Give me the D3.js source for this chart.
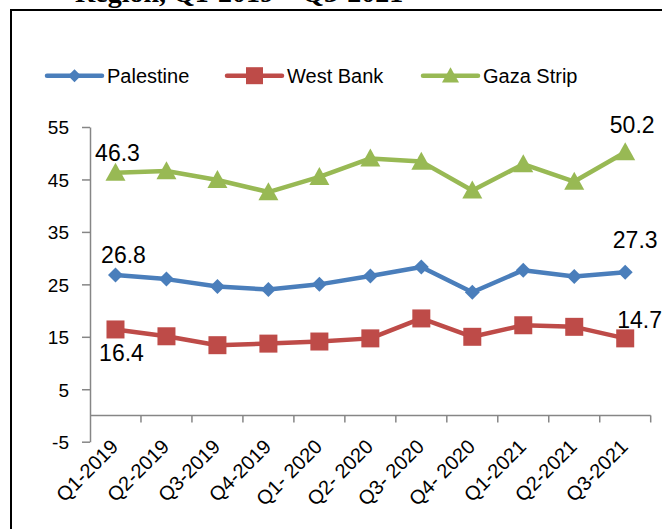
<!DOCTYPE html>
<html>
<head>
<meta charset="utf-8">
<script src="https://cdn.jsdelivr.net/npm/d3@7"></script>
<style>
  html, body { margin: 0; padding: 0; background: #fff; }
  svg { display: block; }
</style>
</head>
<body>
<svg id="chart" width="662" height="529"></svg>
<script>
const categories = ["Q1-2019","Q2-2019","Q3-2019","Q4-2019","Q1- 2020","Q2- 2020","Q3- 2020","Q4- 2020","Q1-2021","Q2-2021","Q3-2021"];
const seriesNames = ["Palestine","West Bank","Gaza Strip"];
const palestine = [26.8, 26.0, 24.6, 24.0, 25.0, 26.6, 28.3, 23.5, 27.7, 26.5, 27.3];
const westBank  = [16.4, 15.1, 13.4, 13.7, 14.1, 14.7, 18.5, 15.0, 17.2, 16.9, 14.7];
const gazaStrip = [46.3, 46.6, 44.9, 42.6, 45.5, 49.0, 48.4, 42.9, 47.9, 44.6, 50.2];
const yTicks = [-5, 5, 15, 25, 35, 45, 55];
const titleText = "Region, Q1-2019 – Q3-2021";

const colors = ["#4a7ebb", "#be4b48", "#98b954"];
const shapes = ["diamond", "square", "triangle"];
const values = [palestine, westBank, gazaStrip];

const svg = d3.select("#chart");
const font = "'Liberation Sans', Arial, sans-serif";

// frame
svg.append("rect").attr("x", 11).attr("y", 10).attr("width", 720).attr("height", 600)
  .attr("fill", "none").attr("stroke", "#000").attr("stroke-width", 2);

// title (cut off at top, as in the source)
svg.append("text").attr("x", 75).attr("y", 1.5)
  .attr("font-family", "'Liberation Serif', 'Times New Roman', serif")
  .attr("font-weight", "bold").attr("font-size", 28)
  .attr("fill", "#000").text(titleText);

const x = d3.scaleBand().domain(categories).range([90, 650.7]);
const y = d3.scaleLinear().domain([-5, 55]).range([441.7, 127]);
const axisColor = "#868686";

// y axis
const yAxis = svg.append("g").attr("transform", "translate(90,0)")
  .call(d3.axisLeft(y).tickValues(yTicks).tickFormat(d => String(d))
    .tickSize(8).tickSizeOuter(0).tickPadding(13));
yAxis.select(".domain").attr("stroke", axisColor).attr("stroke-width", 1.5);
yAxis.selectAll(".tick line").attr("stroke", axisColor).attr("stroke-width", 1.5);
yAxis.selectAll(".tick text").attr("font-family", font).attr("font-size", 19).attr("fill", "#000")
  .attr("dy", "0.36em");

// x axis at zero
const xg = svg.append("g");
xg.append("line").attr("x1", x.range()[0]).attr("x2", x.range()[1])
  .attr("y1", y(0)).attr("y2", y(0)).attr("stroke", axisColor).attr("stroke-width", 1.5);
const boundaries = categories.map(c => x(c)).concat([x.range()[1]]);
xg.selectAll("line.tk").data(boundaries.slice(1)).join("line").attr("class", "tk")
  .attr("x1", d => d).attr("x2", d => d).attr("y1", y(0)).attr("y2", y(0) + 7)
  .attr("stroke", axisColor).attr("stroke-width", 1.5);
xg.selectAll("text").data(categories).join("text")
  .attr("transform", d => `translate(${x(d) + x.bandwidth() / 2 + 4},${448}) rotate(-45)`)
  .attr("text-anchor", "end")
  .attr("font-family", font).attr("font-size", 20).attr("fill", "#000")
  .text(d => d);

function markerPath(shape, size) {
  const s = size / 2;
  if (shape === "diamond") return `M0,${-s}L${s},0L0,${s}L${-s},0Z`;
  if (shape === "square") return `M${-s},${-s}H${s}V${s}H${-s}Z`;
  const h = size * 0.9;
  return `M0,${-h * 0.55}L${s},${h * 0.45}L${-s},${h * 0.45}Z`;
}
const markerSizes = [15, 18, 20];

const line = d3.line().x((d, i) => x(categories[i]) + x.bandwidth() / 2).y(d => y(d));

values.forEach((vals, si) => {
  const g = svg.append("g");
  g.append("path").datum(vals).attr("d", line).attr("fill", "none")
    .attr("stroke", colors[si]).attr("stroke-width", 4.5).attr("stroke-linejoin", "round");
  g.selectAll("path.m").data(vals).join("path").attr("class", "m")
    .attr("transform", (d, i) => `translate(${x(categories[i]) + x.bandwidth() / 2},${y(d)})`)
    .attr("d", markerPath(shapes[si], markerSizes[si]))
    .attr("fill", colors[si]);
});

// data labels (first and last point of each series)
const labelFont = 23;
const lastIdx = categories.length - 1;
const labels = [
  {s: 2, i: 0, dx: 2, dy: -12, anchor: "middle"},
  {s: 2, i: lastIdx, dx: 7, dy: -19, anchor: "middle"},
  {s: 0, i: 0, dx: 8, dy: -12, anchor: "middle"},
  {s: 0, i: lastIdx, dx: 10, dy: -24, anchor: "middle"},
  {s: 1, i: 0, dx: 6, dy: 32, anchor: "middle"},
  {s: 1, i: lastIdx, dx: -8, dy: -10, anchor: "start"}
];
svg.selectAll("text.dl").data(labels).join("text").attr("class", "dl")
  .attr("x", d => x(categories[d.i]) + x.bandwidth() / 2 + d.dx)
  .attr("y", d => y(values[d.s][d.i]) + d.dy)
  .attr("text-anchor", d => d.anchor)
  .attr("font-family", font).attr("font-size", labelFont).attr("fill", "#000")
  .text(d => values[d.s][d.i].toFixed(1));

// legend
const legendX = [47, 227, 423];
const legendY = 75.7;
seriesNames.forEach((name, si) => {
  const g = svg.append("g").attr("transform", `translate(${legendX[si]},${legendY})`);
  g.append("line").attr("x1", 0).attr("x2", 55).attr("y1", 0).attr("y2", 0)
    .attr("stroke", colors[si]).attr("stroke-width", 4.5).attr("stroke-linecap", "round");
  g.append("path").attr("transform", "translate(27.5,0)")
    .attr("d", markerPath(shapes[si], [13, 17, 17][si])).attr("fill", colors[si]);
  g.append("text").attr("x", 60).attr("y", 7).attr("font-family", font)
    .attr("font-size", 20).attr("fill", "#000").text(name);
});
</script>
</body>
</html>
